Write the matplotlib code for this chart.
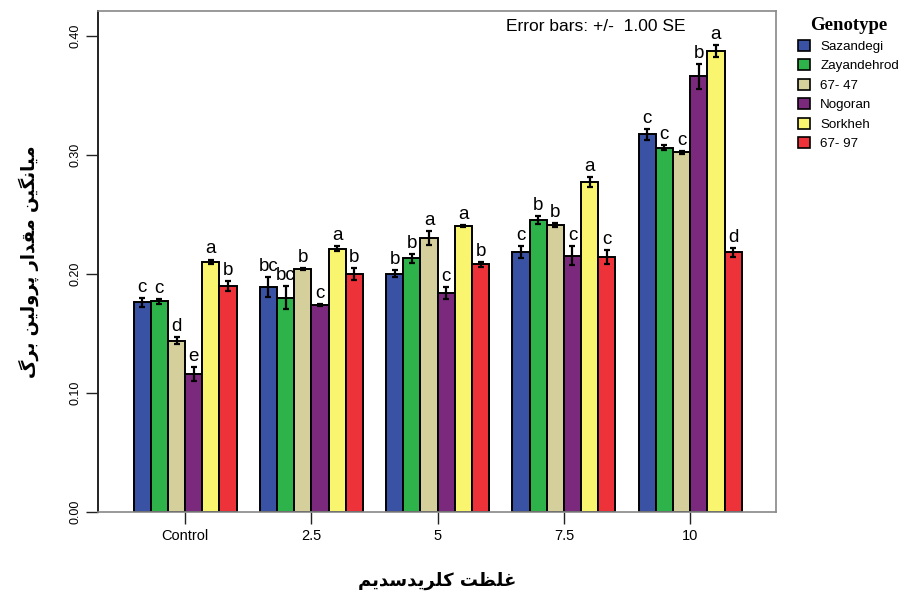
import matplotlib
matplotlib.use("Agg")
import matplotlib.pyplot as plt
import numpy as np
from matplotlib.patches import Patch

# ---------------- data ----------------
groups = ["Control", "2.5", "5", "7.5", "10"]
genotypes = ["Sazandegi", "Zayandehrod", "67- 47", "Nogoran", "Sorkheh", "67- 97"]
colors = ["#3A52A3", "#2EB24A", "#D4CF9B", "#7A297C", "#FAF56F", "#EE3239"]

sazandegi   = [0.176, 0.189, 0.200, 0.218, 0.317]
zayandehrod = [0.177, 0.180, 0.213, 0.245, 0.306]
g67_47      = [0.144, 0.204, 0.230, 0.241, 0.302]
nogoran     = [0.116, 0.174, 0.184, 0.215, 0.366]
sorkheh     = [0.210, 0.221, 0.240, 0.277, 0.387]
g67_97      = [0.190, 0.200, 0.208, 0.214, 0.218]

se_sazandegi   = [0.0035, 0.0084, 0.0030, 0.0050, 0.0048]
se_zayandehrod = [0.0022, 0.0095, 0.0036, 0.0035, 0.0020]
se_67_47       = [0.0027, 0.0010, 0.0060, 0.0020, 0.0013]
se_nogoran     = [0.0060, 0.0010, 0.0050, 0.0080, 0.0105]
se_sorkheh     = [0.0020, 0.0020, 0.0010, 0.0040, 0.0050]
se_67_97       = [0.0043, 0.0050, 0.0020, 0.0060, 0.0036]

let_sazandegi   = ["c", "bc", "b", "c", "c"]
let_zayandehrod = ["c", "bc", "b", "b", "c"]
let_67_47       = ["d", "b", "a", "b", "c"]
let_nogoran     = ["e", "c", "c", "c", "b"]
let_sorkheh     = ["a", "a", "a", "a", "a"]
let_67_97       = ["b", "b", "b", "c", "d"]

values = [sazandegi, zayandehrod, g67_47, nogoran, sorkheh, g67_97]
errors = [se_sazandegi, se_zayandehrod, se_67_47, se_nogoran, se_sorkheh, se_67_97]
letters = [let_sazandegi, let_zayandehrod, let_67_47, let_nogoran, let_sorkheh, let_67_97]

y_ticks = [0.0, 0.1, 0.2, 0.3, 0.4]
ylabel_fa = "میانگین مقدار پرولین برگ"
xlabel_fa = "غلظت کلریدسدیم"
note = "Error bars: +/-  1.00 SE"

# ------------- minimal Persian shaping (presentation forms) -------------
FORMS = {  # iso, fin, ini, med
    "ا": ("\uFE8D", "\uFE8E", None, None),
    "ب": ("\uFE8F", "\uFE90", "\uFE91", "\uFE92"),
    "پ": ("\uFB56", "\uFB57", "\uFB58", "\uFB59"),
    "ت": ("\uFE95", "\uFE96", "\uFE97", "\uFE98"),
    "د": ("\uFEA9", "\uFEAA", None, None),
    "ر": ("\uFEAD", "\uFEAE", None, None),
    "س": ("\uFEB1", "\uFEB2", "\uFEB3", "\uFEB4"),
    "ظ": ("\uFEC5", "\uFEC6", "\uFEC7", "\uFEC8"),
    "غ": ("\uFECD", "\uFECE", "\uFECF", "\uFED0"),
    "ق": ("\uFED5", "\uFED6", "\uFED7", "\uFED8"),
    "ل": ("\uFEDD", "\uFEDE", "\uFEDF", "\uFEE0"),
    "م": ("\uFEE1", "\uFEE2", "\uFEE3", "\uFEE4"),
    "ن": ("\uFEE5", "\uFEE6", "\uFEE7", "\uFEE8"),
    "و": ("\uFEED", "\uFEEE", None, None),
    "ی": ("\uFBFC", "\uFBFD", "\uFBFE", "\uFBFF"),
    "ک": ("\uFB8E", "\uFB8F", "\uFB90", "\uFB91"),
    "گ": ("\uFB92", "\uFB93", "\uFB94", "\uFB95"),
}


def dual(ch):
    return ch in FORMS and FORMS[ch][2] is not None


def shape(text):
    out = []
    for i, ch in enumerate(text):
        if ch not in FORMS:
            out.append(ch)
            continue
        prev = text[i - 1] if i > 0 else ""
        nxt = text[i + 1] if i + 1 < len(text) else ""
        jp = dual(prev)
        jn = dual(ch) and nxt in FORMS
        iso, fin, ini, med = FORMS[ch]
        if jp and jn:
            out.append(med)
        elif jp:
            out.append(fin)
        elif jn:
            out.append(ini)
        else:
            out.append(iso)
    return "".join(out)[::-1]


# ---------------- plot ----------------
plt.rcParams["font.family"] = ["Liberation Sans", "DejaVu Sans"]
fig = plt.figure(figsize=(9.03, 5.95), dpi=100)
ax = fig.add_axes([0.1085, 0.1395, 0.7509, 0.842])

n = len(genotypes)
width = 0.136
x = np.arange(len(groups))
for i in range(n):
    pos = x + (i - (n - 1) / 2) * width
    ax.bar(pos, values[i], width, color=colors[i], edgecolor="black",
           linewidth=1.4, zorder=2)
    ax.errorbar(pos, values[i], yerr=errors[i], fmt="none", ecolor="black",
                elinewidth=1.6, capsize=2.2, capthick=1.6, zorder=3)
    for p, v, e, l in zip(pos, values[i], errors[i], letters[i]):
        ax.annotate(l, (p, v + e), xytext=(0, 1.5), textcoords="offset points",
                    ha="center", va="bottom", fontsize=13.5, color="black")

ax.set_xlim(-0.69, 4.68)
ax.set_ylim(0, 0.4207)
ax.set_xticks(x)
ax.set_xticklabels(groups, fontsize=10.5)
ax.set_yticks(y_ticks)
ax.set_yticklabels([f"{t:.2f}" for t in y_ticks], fontsize=9, rotation=90,
                   va="center")
ax.tick_params(axis="both", length=8.5, width=1, color="#222222")
ax.tick_params(axis="x", pad=3.5)
ax.tick_params(axis="y", pad=3.5)

for s in ["top", "right", "bottom"]:
    ax.spines[s].set_color("#888888")
    ax.spines[s].set_linewidth(1.2)
ax.spines["left"].set_color("#222222")
ax.spines["left"].set_linewidth(1.4)

ax.text(0.7345, 0.985, note, transform=ax.transAxes, ha="center", va="top",
        fontsize=12.5)

ax.set_xlabel(shape(xlabel_fa), family=["DejaVu Sans"], fontweight="bold",
              fontsize=13, labelpad=21)
ax.set_ylabel(shape(ylabel_fa), family=["DejaVu Sans"], fontweight="bold",
              fontsize=13, labelpad=22)

handles = [Patch(facecolor=c, edgecolor="black", linewidth=1.2) for c in colors]
leg = fig.legend(handles, genotypes, loc="upper left",
                 bbox_to_anchor=(0.878, 0.981), frameon=False, fontsize=9.6,
                 handlelength=0.9, handleheight=0.9, handletextpad=0.75,
                 labelspacing=0.47, borderaxespad=0, title="Genotype")
leg.get_title().set_fontfamily("Liberation Serif")
leg.get_title().set_fontweight("bold")
leg.get_title().set_fontsize(13.5)

fig.savefig("out.png", dpi=100)
